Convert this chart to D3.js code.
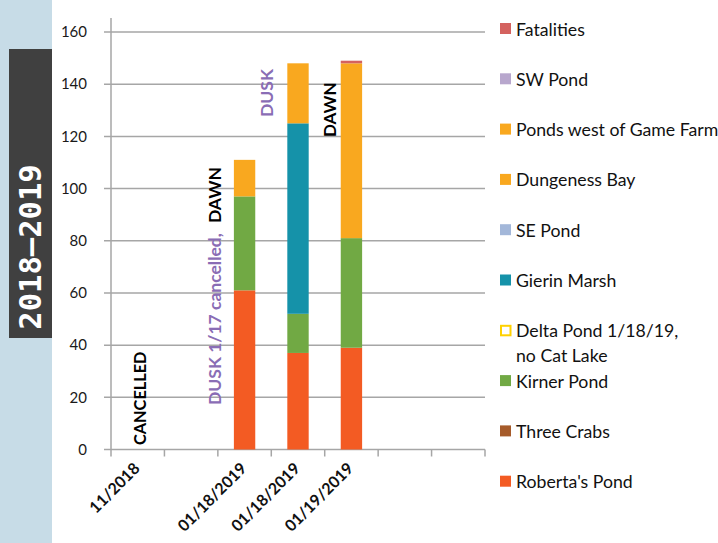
<!DOCTYPE html>
<html><head><meta charset="utf-8">
<script src="https://d3js.org/d3.v7.min.js"></script>
<style>body{margin:0;background:#fff}svg{display:block}</style>
</head><body>
<script>
const categories = ["11/2018", "", "01/18/2019", "01/18/2019", "01/19/2019", "", ""];
const seriesNames = ["Roberta's Pond","Three Crabs","Kirner Pond","Delta Pond 1/18/19, no Cat Lake","Gierin Marsh","SE Pond","Dungeness Bay","Ponds west of Game Farm","SW Pond","Fatalities"];
const robertasPond = [0, 0, 61, 37, 39, 0, 0];
const threeCrabs   = [0, 0, 0, 0, 0, 0, 0];
const kirnerPond   = [0, 0, 36, 15, 42, 0, 0];
const deltaPond    = [0, 0, 0, 0, 0, 0, 0];
const gierinMarsh  = [0, 0, 0, 73, 0, 0, 0];
const sePond       = [0, 0, 0, 0, 0, 0, 0];
const dungenessBay = [0, 0, 14, 23, 67, 0, 0];
const pondsWest    = [0, 0, 0, 0, 0, 0, 0];
const swPond       = [0, 0, 0, 0, 0, 0, 0];
const fatalities   = [0, 0, 0, 0, 1, 0, 0];
const yTicks = [0, 20, 40, 60, 80, 100, 120, 140, 160];
const seriesValues = [robertasPond, threeCrabs, kirnerPond, deltaPond, gierinMarsh, sePond, dungenessBay, pondsWest, swPond, fatalities];
const colors = ["#f35b23","#a65b2a","#71a944","#ffffff","#1592a9","#a3b7d9","#f9a81f","#f9a81f","#b8a7cd","#d4625f"];

const W = 718, H = 543;
const svg = d3.select("body").append("svg").attr("width", W).attr("height", H);
const font = "Lato, 'Noto Sans', sans-serif";

// left band
svg.append("rect").attr("x",0).attr("y",0).attr("width",52).attr("height",H).attr("fill","#c7dce7");
svg.append("rect").attr("x",9).attr("y",49).attr("width",43).attr("height",289).attr("fill","#404040");
svg.append("text").attr("transform","translate(41,247) rotate(-90)")
  .attr("text-anchor","middle").attr("font-family","'DejaVu Sans Mono', monospace")
  .attr("font-weight","bold").attr("font-size",30.5).attr("fill","#fff").text("2018–2019");

const x = d3.scaleBand().domain(d3.range(categories.length)).range([111, 485]).paddingInner(0.6).paddingOuter(0.3);
const y = d3.scaleLinear().domain([0, 160]).range([449.5, 32]);

// gridlines
svg.append("g").selectAll("line").data(yTicks).join("line")
  .attr("x1",104).attr("x2",485).attr("y1",d=>y(d)).attr("y2",d=>y(d))
  .attr("stroke","#a6a6a6").attr("stroke-width",1.5);
// y axis line
svg.append("line").attr("x1",111).attr("x2",111).attr("y1",18).attr("y2",y(0)).attr("stroke","#a6a6a6").attr("stroke-width",1.5);
// x ticks between categories
const step = x.step();
svg.append("g").selectAll("line").data(d3.range(categories.length+1)).join("line")
  .attr("x1",i=>111+i*step).attr("x2",i=>111+i*step).attr("y1",y(0)).attr("y2",y(0)+7)
  .attr("stroke","#a6a6a6").attr("stroke-width",1.5);

// y labels
svg.append("g").selectAll("text").data(yTicks).join("text")
  .attr("x",87).attr("y",d=>y(d)).attr("dy","0.35em").attr("text-anchor","end")
  .attr("font-family",font).attr("font-size",15).attr("fill","#1a1a1a").text(d=>d);

// x labels
svg.append("g").selectAll("text").data(categories.map((c,i)=>({c,i})).filter(d=>d.c)).join("text")
  .attr("transform",d=>`translate(${x(d.i)+x.bandwidth()/2+3},${y(0)+20}) rotate(-45)`)
  .attr("text-anchor","end").attr("font-family",font).attr("font-weight","bold").attr("font-size",16).attr("fill","#111")
  .text(d=>d.c);

// stacked bars
const table = categories.map((c,i)=>{const o={i}; seriesNames.forEach((s,k)=>o[s]=seriesValues[k][i]); return o;});
const stacked = d3.stack().keys(seriesNames)(table);
stacked.forEach((layer,k)=>{
  svg.append("g").selectAll("rect").data(layer.filter(d=>d[1]-d[0]>0)).join("rect")
    .attr("x",d=>x(d.data.i)).attr("width",x.bandwidth())
    .attr("y",d=>y(d[1])).attr("height",d=>y(d[0])-y(d[1]))
    .attr("fill",colors[k]);
});

// annotations
svg.append("text").attr("transform",`translate(146,445) rotate(-90)`)
  .attr("font-family",font).attr("font-weight","bold").attr("font-size",16.3).attr("fill","#000").text("CANCELLED");
const t2 = svg.append("text").attr("transform",`translate(221,405) rotate(-90)`)
  .attr("font-family",font).attr("font-weight","bold").attr("font-size",17.5);
t2.append("tspan").attr("fill","#8a6db5").text("DUSK 1/17 cancelled,");
t2.append("tspan").attr("fill","#000").attr("dx",10).text("DAWN");
svg.append("text").attr("transform",`translate(273,117) rotate(-90)`)
  .attr("font-family",font).attr("font-weight","bold").attr("font-size",17.5).attr("fill","#8a6db5").text("DUSK");
svg.append("text").attr("transform",`translate(336,137) rotate(-90)`)
  .attr("font-family",font).attr("font-weight","bold").attr("font-size",17).attr("fill","#000").text("DAWN");

// legend (reverse order)
const legendItems = seriesNames.map((s,k)=>({s,k})).reverse();
const lg = svg.append("g");
const lfs = 17.7;
legendItems.forEach((d,j)=>{
  const cy = 29 + j*50.3;
  if (d.s.startsWith("Delta")) {
    lg.append("rect").attr("x",501).attr("y",cy-5).attr("width",9.5).attr("height",9.5).attr("fill","#fff").attr("stroke","#ffd100").attr("stroke-width",2);
    const t = lg.append("text").attr("font-family",font).attr("font-size",lfs).attr("fill","#111");
    t.append("tspan").attr("x",516).attr("y",cy+6.5).text("Delta Pond 1/18/19,");
    t.append("tspan").attr("x",516).attr("y",cy+31).text("no Cat Lake");
  } else {
    lg.append("rect").attr("x",500).attr("y",cy-6).attr("width",11).attr("height",11).attr("fill",colors[d.k]);
    lg.append("text").attr("x",516).attr("y",cy+6.5).attr("font-family",font).attr("font-size",lfs).attr("fill","#111").text(d.s);
  }
});
</script>
</body></html>
